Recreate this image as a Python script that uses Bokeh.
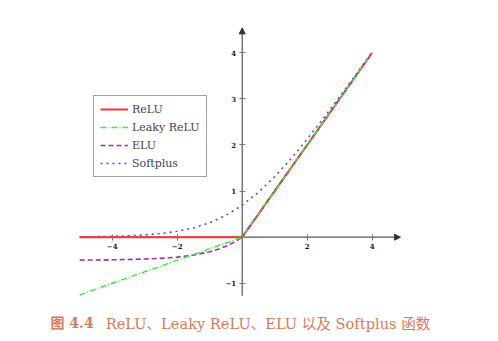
from bokeh.plotting import figure
from bokeh.models import (Range1d, FixedTicker, Legend, LegendItem, Label, Arrow, NormalHead)
from bokeh.embed import file_html
from bokeh.resources import INLINE

# data
x_relu = [-5, 0, 4]
y_relu = [0, 0, 4]
x_leaky = [-5, 0, 4]
y_leaky = [-1.25, 0, 4]
x_elu = [-5, -4, -3, -2.5, -2, -1.5, -1, -0.75, -0.5, -0.25, 0, 4]
y_elu = [-0.497, -0.491, -0.475, -0.459, -0.432, -0.388, -0.316, -0.264, -0.197, -0.111, 0, 4]
x_soft = [-5, -4.5, -4, -3.5, -3, -2.5, -2, -1.5, -1, -0.5, 0, 0.5, 1, 1.5, 2, 2.5, 3, 3.5, 4]
y_soft = [0.0067, 0.011, 0.018, 0.030, 0.049, 0.079, 0.127, 0.201, 0.313, 0.474, 0.693,
          0.974, 1.313, 1.701, 2.127, 2.579, 3.049, 3.530, 4.018]
x_ticks = [-4, -2, 2, 4]
y_ticks = [-1, 1, 2, 3, 4]
x_axis_span = (-5.0, 4.87)
y_axis_span = (-1.27, 4.54)
caption_num = "图 4.4"
caption_text = "ReLU、Leaky ReLU、ELU 以及 Softplus 函数"

SERIF = "DejaVu Serif, Noto Sans CJK SC"
AXC = "#555555"

p = figure(width=498, height=341, output_backend="svg", toolbar_location=None,
           x_range=Range1d(-7.437, 7.886), y_range=Range1d(-2.263, 5.134),
           min_border_left=0, min_border_right=0, min_border_top=0, min_border_bottom=0,
           background_fill_color="white", border_fill_color="white", outline_line_color=None)
p.grid.visible = False

for ax, ticks in ((p.xaxis, x_ticks), (p.yaxis, y_ticks)):
    ax.fixed_location = 0
    ax.ticker = FixedTicker(ticks=ticks)
    ax.minor_tick_line_color = None
    ax.major_tick_in = 3
    ax.major_tick_out = 3
    ax.axis_line_color = None
    ax.major_tick_line_color = "#777777"
    ax.major_label_text_font = "DejaVu Serif"
    ax.major_label_text_font_size = "7px"
    ax.major_label_text_font_style = "bold"
    ax.major_label_text_color = "#222222"
    ax.major_label_overrides = {t: (str(t).replace("-", "\u2212")) for t in ticks}
p.xaxis.major_label_standoff = 3
p.yaxis.major_label_standoff = 3

p.add_layout(Arrow(end=NormalHead(size=6, fill_color="#333333", line_color="#333333"),
                   x_start=x_axis_span[0], y_start=0, x_end=x_axis_span[1], y_end=0,
                   line_color=AXC, line_width=1.2, level="underlay"))
p.add_layout(Arrow(end=NormalHead(size=6, fill_color="#333333", line_color="#333333"),
                   x_start=0, y_start=y_axis_span[0], x_end=0, y_end=y_axis_span[1],
                   line_color=AXC, line_width=1.2, level="underlay"))

r_soft = p.line(x_soft, y_soft, line_color="#4a4aff", line_width=1.6, line_dash="dotted")
r_relu = p.line(x_relu, y_relu, line_color="#ff3333", line_width=2)
r_elu = p.line(x_elu, y_elu, line_color="#a030a0", line_width=1.6, line_dash="5 3")
r_leaky = p.line(x_leaky, y_leaky, line_color="#33ee33", line_width=1.4, line_dash="6 2 1 2")

legend = Legend(items=[LegendItem(label="ReLU", renderers=[r_relu]),
                       LegendItem(label="Leaky ReLU", renderers=[r_leaky]),
                       LegendItem(label="ELU", renderers=[r_elu]),
                       LegendItem(label="Softplus", renderers=[r_soft])],
                location=(93, 164), label_text_font="DejaVu Serif", label_text_font_size="11px",
                glyph_width=28, glyph_height=14, label_height=14, spacing=4, padding=6,
                margin=0, border_line_color="#444444", border_line_width=1.2,
                label_standoff=4, background_fill_alpha=1.0)
p.add_layout(legend)

p.add_layout(Label(x=-5.9, y=-1.866, text=caption_num, text_font=SERIF,
                   text_font_size="14px", text_font_style="bold", text_color="#da7a56",
                   text_baseline="middle", text_align="left"))
p.add_layout(Label(x=-4.2, y=-1.866, text=caption_text, text_font=SERIF,
                   text_font_size="14.6px", text_color="#da7a56",
                   text_baseline="middle", text_align="left"))

open("out.html", "w").write(file_html(p, INLINE))
